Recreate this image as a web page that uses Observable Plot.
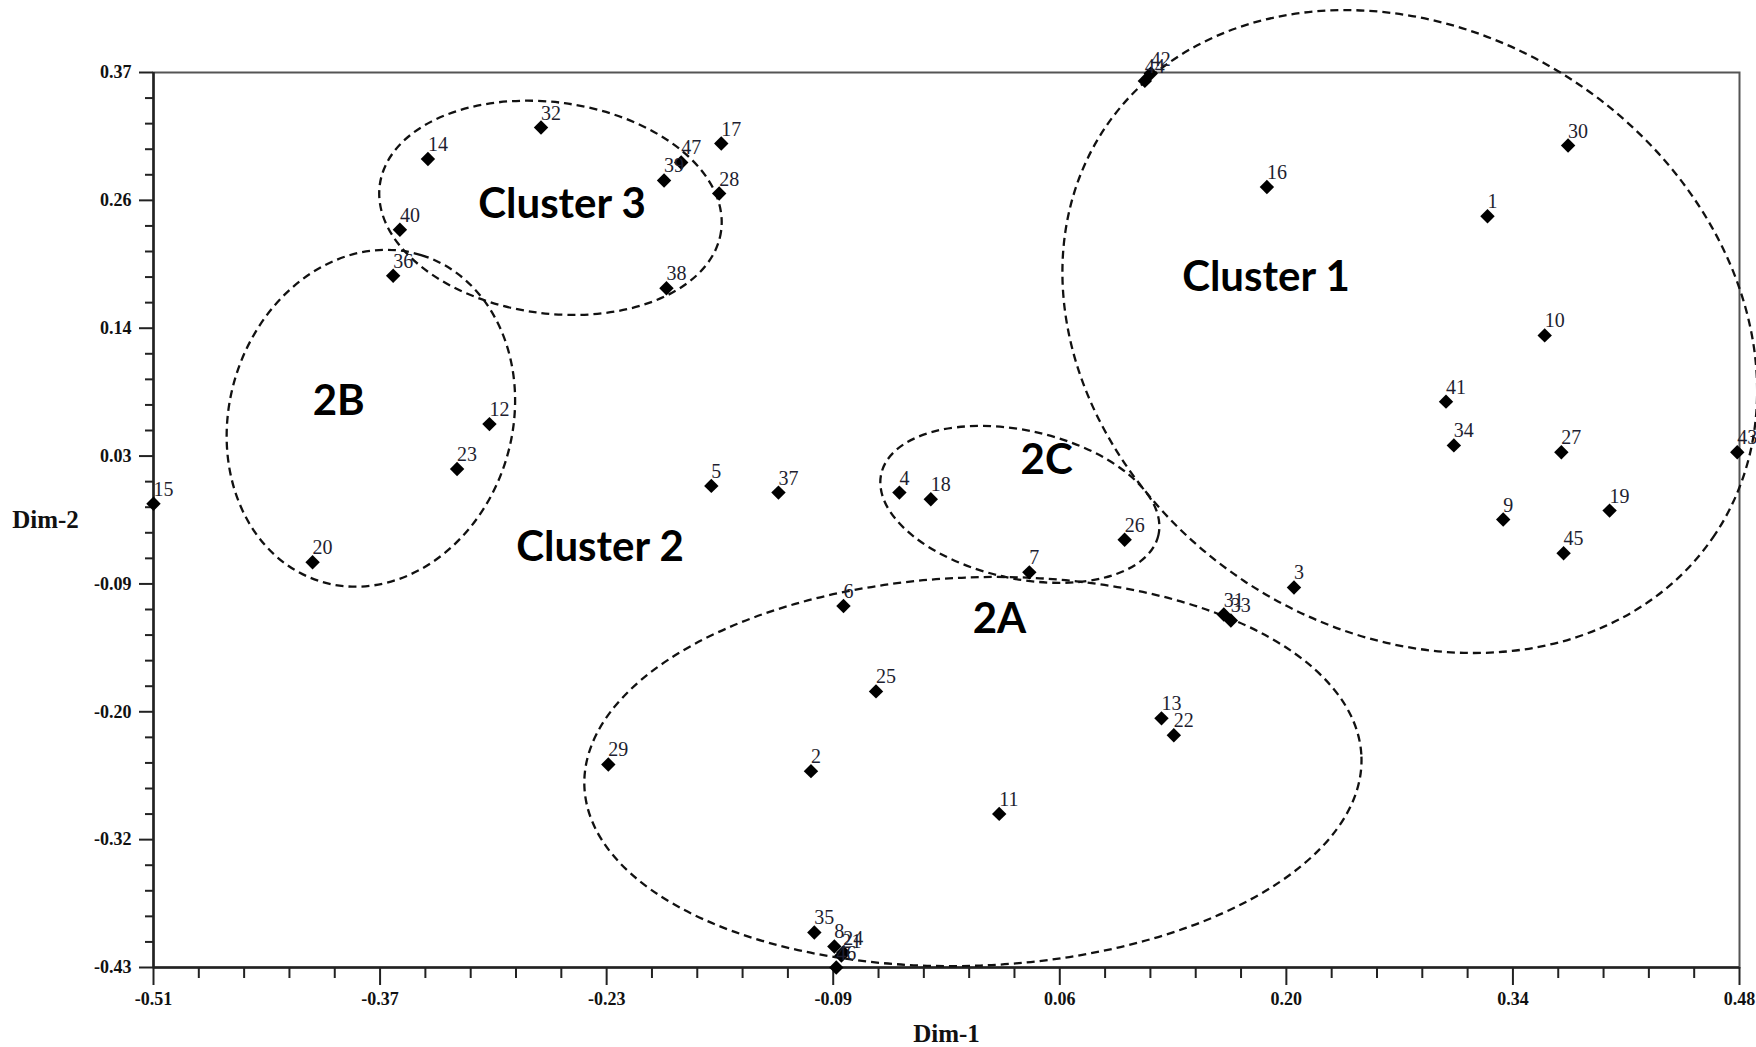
<!DOCTYPE html>
<html><head><meta charset="utf-8">
<script src="https://cdn.jsdelivr.net/npm/d3@7"></script>
<script src="https://cdn.jsdelivr.net/npm/@observablehq/plot@0.6"></script>
<style>body{margin:0;background:#fff} svg{display:block}</style>
</head><body><div id="chart"></div>
<script>
// ---- data ----
const ids  = [1,2,3,4,5,6,7,8,9,10,11,12,13,14,15,16,17,18,19,20,21,22,23,24,25,26,27,28,29,30,31,32,33,34,35,36,37,38,39,40,41,42,43,44,45,46,47];
const dim1 = [0.3227,-0.0996,0.2019,-0.0444,-0.1618,-0.0793,0.0367,-0.0850,0.3325,0.3584,0.0179,-0.3003,0.1192,-0.3387,-0.5100,0.1850,-0.1556,-0.0248,0.3989,-0.4107,-0.0806,0.1269,-0.3205,-0.0794,-0.0590,0.0962,0.3688,-0.1569,-0.2261,0.3730,0.1581,-0.2681,0.1625,0.3017,-0.0975,-0.3604,-0.1199,-0.1898,-0.1913,-0.3562,0.2968,0.1125,0.4786,0.1088,0.3702,-0.0838,-0.1806];
const dim2 = [0.2415,-0.2545,-0.0903,-0.0055,0.0005,-0.1069,-0.0768,-0.4112,-0.0296,0.1350,-0.2927,0.0557,-0.2073,0.2927,-0.0155,0.2676,0.3065,-0.0115,-0.0216,-0.0678,-0.4193,-0.2224,0.0156,-0.4166,-0.1832,-0.0477,0.0306,0.2618,-0.2485,0.3047,-0.1145,0.3208,-0.1198,0.0367,-0.3987,0.1883,-0.0055,0.1772,0.2735,0.2294,0.0758,0.3690,0.0306,0.3625,-0.0597,-0.4300,0.2896];

const xTickLabels = ["-0.51","-0.37","-0.23","-0.09","0.06","0.20","0.34","0.48"];
const yTickLabels = ["-0.43","-0.32","-0.20","-0.09","0.03","0.14","0.26","0.37"];

const clusterNames = ["Cluster 1","Cluster 2","Cluster 3","2A","2B","2C"];
const clusterX = [0.1844,-0.2313,-0.2550,0.0181,-0.3944,0.0475];
const clusterY = [0.1868,-0.0546,0.2520,-0.1189,0.0759,0.0232];

// ellipse annotations: centre (data), semi-axes (in Dim-1 units), rotation (deg)
const ellCx    = [0.2745,-0.2619,-0.3740,0.0311,0.0018];
const ellCy    = [0.1380,0.2486,0.0605,-0.0165,-0.2553];
const ellA     = [0.2288,0.1075,0.1066,0.0886,0.2427];
const ellB     = [0.1869,0.0659,0.0883,0.0462,0.1212];
const ellAngle = [33.6,7.7,-72.9,12.4,-2.2];

// ---- derived tables ----
const points = ids.map((id, i) => ({id: String(id), x: dim1[i], y: dim2[i]}));
const clusters = clusterNames.map((n, i) => ({name: n, x: clusterX[i], y: clusterY[i]}));
const ellipsesData = ellCx.map((cx, i) => ({cx, cy: ellCy[i], a: ellA[i], b: ellB[i], angle: ellAngle[i]}));

const xDomain = [-0.51, 0.48], yDomain = [-0.43, 0.37];
const nInt = 7, nSub = 5;
const xMajor = xTickLabels.map((_, i) => xDomain[0] + i * (xDomain[1] - xDomain[0]) / nInt);
const yMajor = yTickLabels.map((_, i) => yDomain[0] + i * (yDomain[1] - yDomain[0]) / nInt);
const xMinor = d3.range(nInt * nSub + 1).filter(k => k % nSub).map(k => xDomain[0] + k * (xDomain[1] - xDomain[0]) / (nInt * nSub));
const yMinor = d3.range(nInt * nSub + 1).filter(k => k % nSub).map(k => yDomain[0] + k * (yDomain[1] - yDomain[0]) / (nInt * nSub));
const xLab = new Map(xMajor.map((v, i) => [v, xTickLabels[i]]));
const yLab = new Map(yMajor.map((v, i) => [v, yTickLabels[i]]));

function ellipseMark(index, scales) {
  const {x, y} = scales;
  const g = d3.create("svg:g")
    .attr("fill", "none").attr("stroke", "#111")
    .attr("stroke-width", 2.3).attr("stroke-dasharray", "8,5");
  for (const e of ellipsesData) {
    const px = x(e.cx), py = y(e.cy);
    const a = x(e.cx + e.a) - px, b = x(e.cx + e.b) - px;
    g.append("ellipse").attr("rx", a).attr("ry", b)
      .attr("transform", `translate(${px},${py}) rotate(${e.angle})`);
  }
  return g.node();
}

const serif = "'Liberation Serif', 'Times New Roman', serif";

const chart = Plot.plot({
  width: 1756, height: 1047,
  marginLeft: 153, marginRight: 17, marginTop: 72, marginBottom: 80,
  x: {domain: xDomain},
  y: {domain: yDomain},
  style: {background: "white", overflow: "visible"},
  marks: [
    Plot.frame({stroke: "#555", strokeWidth: 2}),
    Plot.ruleX([xDomain[0]], {stroke: "#222", strokeWidth: 2.5}),
    Plot.ruleY([yDomain[0]], {stroke: "#222", strokeWidth: 2.5}),
    Plot.axisX(xMajor, {tickSize: 18, tickPadding: 7, tickFormat: d => xLab.get(d), fontSize: 18, fontWeight: "bold", fontFamily: serif, strokeWidth: 2, stroke: "#222", fill: "#111", label: null}),
    Plot.axisX(xMinor, {tickSize: 11, tickFormat: () => "", strokeWidth: 2, stroke: "#222", label: null}),
    Plot.axisY(yMajor, {tickSize: 14, tickPadding: 8, tickFormat: d => yLab.get(d), fontSize: 18, fontWeight: "bold", fontFamily: serif, strokeWidth: 2, stroke: "#222", fill: "#111", label: null}),
    Plot.axisY(yMinor, {tickSize: 8, tickFormat: () => "", strokeWidth: 2, stroke: "#222", label: null}),
    Plot.text(["Dim-1"], {frameAnchor: "bottom", dy: 66, textAnchor: "middle", lineAnchor: "middle", fontSize: 25, fontWeight: "bold", fontFamily: serif, fill: "#111"}),
    Plot.text(["Dim-2"], {frameAnchor: "left", dx: -108, textAnchor: "middle", lineAnchor: "middle", fontSize: 25, fontWeight: "bold", fontFamily: serif, fill: "#111"}),
    ellipseMark,
    Plot.dot(points, {x: "x", y: "y", symbol: "diamond2", r: 6.5, fill: "#000", stroke: null}),
    Plot.text(points, {x: "x", y: "y", text: "id", dx: 0, dy: -8, textAnchor: "start", lineAnchor: "bottom", fontSize: 20, fontFamily: serif, fill: "#1e1e30"}),
    Plot.text(clusters, {x: "x", y: "y", text: "name", fontSize: 42, fontWeight: "bold", fontFamily: "Lato, 'Open Sans', sans-serif", fill: "#000"})
  ]
});
document.getElementById("chart").append(chart);
</script>
</body></html>
